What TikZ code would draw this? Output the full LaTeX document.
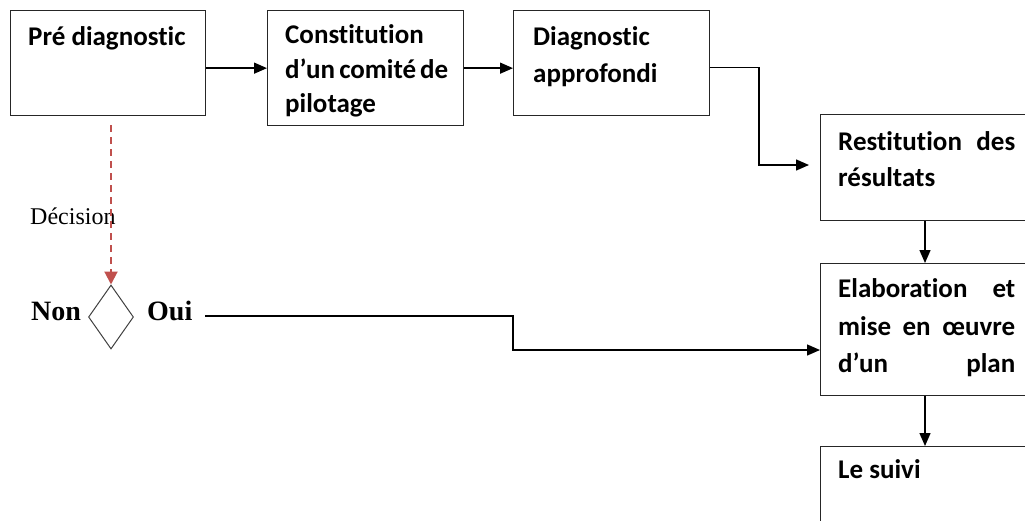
\documentclass[tikz,border=0pt]{standalone}
\usepackage{fontspec}
\usetikzlibrary{arrows.meta,shapes.geometric}
\newfontfamily\calfont[RawFeature={-liga;-clig;-dlig}]{Carlito}
\newfontfamily\tmsfont{Liberation Serif}
\definecolor{dred}{HTML}{C0504D}
\definecolor{dgray}{HTML}{404040}
\tikzset{
  box/.style={draw=black!85, line width=1.3pt, rectangle, inner sep=0pt, anchor=north west},
  btext/.style={anchor=base west, inner sep=0pt, font=\calfont\bfseries\fontsize{27}{37}\selectfont},
  arr/.style={line width=1.4pt, -{Triangle[length=13pt,width=11pt]}},
  decarr/.style={draw=dred, line width=2pt, dash pattern=on 7pt off 5pt, -{Triangle[length=13pt,width=13pt]}},
}
\begin{document}
\begin{tikzpicture}[x=1pt,y=-1pt]
\useasboundingbox (0,0) rectangle (1025,520);
\clip (0,0) rectangle (1025,520);
% boxes
\node[box, minimum width=195pt, minimum height=105pt] (b1) at (10,10) {};
\node[box, minimum width=196pt, minimum height=115pt] (b2) at (267,10) {};
\node[box, minimum width=196pt, minimum height=105pt] (b3) at (513,10) {};
\node[box, minimum width=210pt, minimum height=106pt] (b4) at (820,114) {};
\node[box, minimum width=210pt, minimum height=132pt] (b5) at (820,263) {};
\node[box, minimum width=210pt, minimum height=100pt] (b6) at (820,446) {};
% box texts
\node[btext] (t1) at (28,45) {Pré diagnostic};
\node[btext] (t2a) at (285,43) {Constitution};
\node[btext] (t2b) at (285,78) {\makebox[158pt][s]{d’un comité de}};
\node[btext] (t2c) at (285,112) {pilotage};
\node[btext] (t3a) at (533,45) {Diagnostic};
\node[btext] (t3b) at (533,82) {approfondi};
\node[btext] (t4a) at (838,150) {\makebox[177pt][s]{Restitution des}};
\node[btext] (t4b) at (838,186) {résultats};
\node[btext] (t5a) at (838,297) {\makebox[177pt][s]{Elaboration et}};
\node[btext] (t5b) at (838,335) {\makebox[177pt][s]{mise en œuvre}};
\node[btext] (t5c) at (838,372) {\makebox[177pt][s]{d’un plan}};
\node[btext] (t6) at (838,478) {Le suivi};
% decision
\node[diamond, draw=dgray, line width=1pt, minimum width=45pt, minimum height=64pt, inner sep=0pt, aspect=0.7] (d) at (111,317) {};
\node[anchor=base west, inner sep=0pt, font=\tmsfont\fontsize{24}{28}\selectfont] (dec) at (30,224) {Décision};
\node[anchor=base west, inner sep=0pt, font=\tmsfont\bfseries\fontsize{28}{30}\selectfont] (non) at (31,320) {Non};
\node[anchor=base west, inner sep=0pt, font=\tmsfont\bfseries\fontsize{28}{30}\selectfont] (oui) at (147,320) {Oui};
% connectors
\draw[arr] (b1.east |- b2.west) -- (b2.west);
\draw[arr] (b2.east) -- (b3.west |- b2.east);
\coordinate (r4) at (809,165);
\draw[arr] ([yshift=-4.5pt]b3.east) -| (759,165) -- (r4);
\draw[arr] (b4.south -| 925,0) -- (b5.north -| 925,0);
\draw[arr] (b5.south -| 925,0) -- (b6.north -| 925,0);
\coordinate (s1) at (205,316);
\coordinate (s2) at (513,350);
\draw[arr] (s1) -| (s2) -- (s2 -| b5.west);
\coordinate (dtop) at (111,125);
\draw[decarr] (dtop) -- (d.north);
\end{tikzpicture}
\end{document}
